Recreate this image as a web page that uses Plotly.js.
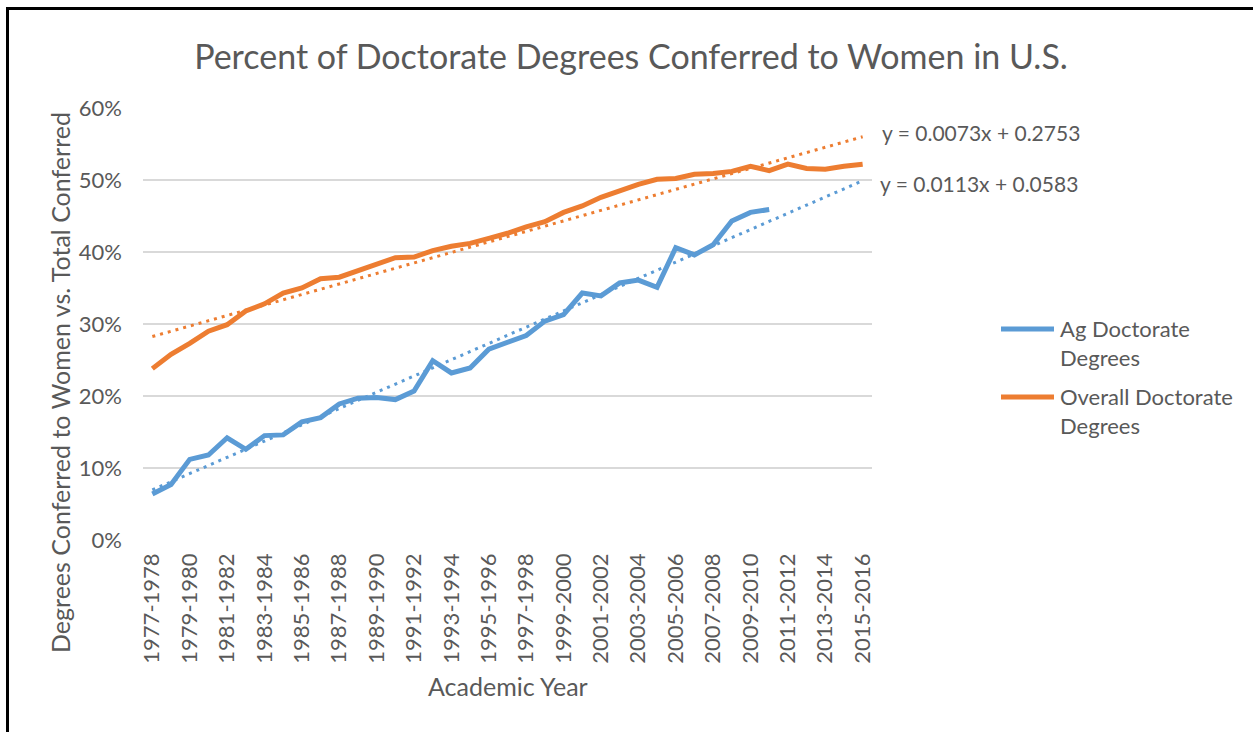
<!DOCTYPE html>
<html>
<head>
<meta charset="utf-8">
<script src="https://cdn.plot.ly/plotly-3.0.1.min.js"></script>
<style>
  html, body { margin: 0; padding: 0; background: #fff; }
  #wrap { position: relative; width: 1253px; height: 732px; overflow: hidden; }
  #chart { width: 1253px; height: 732px; }
  #frame { position: absolute; left: 6px; top: 7px; width: 1300px; height: 800px;
           border-left: 3px solid #000; border-top: 3px solid #000; pointer-events: none; }
</style>
</head>
<body>
<div id="wrap">
  <div id="chart"></div>
  <div id="frame"></div>
</div>
<script>
// Academic years (categories)
const years = [
  "1977-1978","1978-1979","1979-1980","1980-1981","1981-1982","1982-1983","1983-1984","1984-1985",
  "1985-1986","1986-1987","1987-1988","1988-1989","1989-1990","1990-1991","1991-1992","1992-1993",
  "1993-1994","1994-1995","1995-1996","1996-1997","1997-1998","1998-1999","1999-2000","2000-2001",
  "2001-2002","2002-2003","2003-2004","2004-2005","2005-2006","2006-2007","2007-2008","2008-2009",
  "2009-2010","2010-2011","2011-2012","2012-2013","2013-2014","2014-2015","2015-2016"
];
// Share of Ag doctorate degrees conferred to women (1977-78 .. 2010-11)
const agDoctorate = [
  0.064, 0.077, 0.112, 0.118, 0.142, 0.126, 0.145, 0.146, 0.164, 0.170,
  0.189, 0.197, 0.198, 0.195, 0.207, 0.249, 0.232, 0.239, 0.265, 0.274,
  0.284, 0.304, 0.313, 0.343, 0.339, 0.357, 0.361, 0.351, 0.406, 0.396,
  0.410, 0.443, 0.455, 0.459
];
// Share of overall doctorate degrees conferred to women (1977-78 .. 2015-16)
const overallDoctorate = [
  0.238, 0.258, 0.273, 0.290, 0.299, 0.318, 0.328, 0.343, 0.350, 0.363,
  0.365, 0.374, 0.383, 0.392, 0.393, 0.402, 0.408, 0.412, 0.419, 0.426,
  0.435, 0.442, 0.455, 0.464, 0.476, 0.485, 0.494, 0.501, 0.502, 0.508,
  0.509, 0.512, 0.519, 0.513, 0.522, 0.516, 0.515, 0.519, 0.522
];
// Linear trendline coefficients shown on the chart (x = 1-based category index)
const agTrend = { slope: 0.0113, intercept: 0.0583, label: "y = 0.0113x + 0.0583" };
const overallTrend = { slope: 0.0073, intercept: 0.2753, label: "y = 0.0073x + 0.2753" };
const seriesNames = ["Ag Doctorate<br>Degrees", "Overall Doctorate<br>Degrees"];
const yTickVals = [0, 0.1, 0.2, 0.3, 0.4, 0.5, 0.6];
const xTickLabels = years.filter((y, i) => i % 2 === 0);

const BLUE = "#5B9BD5", ORANGE = "#ED7D31", TXT = "#595959";
const FONT = "Lato, 'Open Sans', sans-serif";

const trendY = t => years.map((_, i) => t.slope * (i + 1) + t.intercept);

const traces = [
  { x: years, y: trendY(overallTrend), type: "scatter", mode: "lines", showlegend: false,
    line: { color: ORANGE, width: 3, dash: "3px,5px" }, hoverinfo: "skip" },
  { x: years, y: trendY(agTrend), type: "scatter", mode: "lines", showlegend: false,
    line: { color: BLUE, width: 3, dash: "3px,5px" }, hoverinfo: "skip" },
  { x: years.slice(0, agDoctorate.length), y: agDoctorate, type: "scatter", mode: "lines",
    name: seriesNames[0], showlegend: false, line: { color: BLUE, width: 5 } },
  { x: years, y: overallDoctorate, type: "scatter", mode: "lines",
    name: seriesNames[1], showlegend: false, line: { color: ORANGE, width: 5 } }
];

const L = 143, R = 872, T = 108, B = 540, W = 1253, H = 732;
const px = v => (v - L) / (R - L);
const py = v => (B - v) / (B - T);

const layout = {
  width: W, height: H,
  margin: { l: L, r: W - R, t: T, b: H - B, pad: 0 },
  paper_bgcolor: "#fff", plot_bgcolor: "#fff",
  font: { family: FONT, color: TXT, size: 22 },
  title: { text: "Percent of Doctorate Degrees Conferred to Women in U.S.",
           font: { family: FONT, size: 34, color: TXT },
           x: 631 / W, xanchor: "center", xref: "container",
           y: 1 - 57 / H, yanchor: "middle", yref: "container" },
  xaxis: { type: "category", range: [-0.5, years.length - 0.5],
           tickmode: "array", tickvals: xTickLabels, ticktext: xTickLabels,
           tickangle: -90, showgrid: false, zeroline: false, showline: false,
           ticks: "", ticklabelstandoff: 8,
           tickfont: { family: FONT, size: 22, color: TXT } },
  yaxis: { range: [0, 0.6], tickmode: "array", tickvals: yTickVals, tickformat: ".0%",
           showgrid: true, gridcolor: "#D9D9D9", gridwidth: 1.3, zeroline: false,
           showline: false, ticks: "", ticklabelstandoff: 20,
           tickfont: { family: FONT, size: 22, color: TXT } },
  showlegend: false,
  shapes: [
    { type: "line", xref: "paper", yref: "paper", x0: px(1001), x1: px(1054), y0: py(329), y1: py(329),
      line: { color: BLUE, width: 5 } },
    { type: "line", xref: "paper", yref: "paper", x0: px(1001), x1: px(1054), y0: py(397), y1: py(397),
      line: { color: ORANGE, width: 5 } }
  ],
  annotations: [
    { text: "Degrees Conferred to Women vs. Total Conferred", textangle: -90,
      xref: "paper", yref: "paper", x: px(60), y: py(383), xanchor: "center", yanchor: "middle",
      showarrow: false, font: { family: FONT, size: 25, color: TXT } },
    { text: "Academic Year", xref: "paper", yref: "paper", x: px(508), y: py(686),
      xanchor: "center", yanchor: "middle", showarrow: false,
      font: { family: FONT, size: 25, color: TXT } },
    { text: overallTrend.label, xref: "paper", yref: "paper", x: px(880), y: py(132),
      xanchor: "left", yanchor: "middle", showarrow: false,
      font: { family: FONT, size: 21, color: TXT } },
    { text: agTrend.label, xref: "paper", yref: "paper", x: px(878), y: py(183),
      xanchor: "left", yanchor: "middle", showarrow: false,
      font: { family: FONT, size: 21, color: TXT } },
    { text: seriesNames[0], xref: "paper", yref: "paper", x: px(1058), y: py(343),
      xanchor: "left", yanchor: "middle", align: "left", showarrow: false,
      font: { family: FONT, size: 22, color: TXT } },
    { text: seriesNames[1], xref: "paper", yref: "paper", x: px(1058), y: py(411),
      xanchor: "left", yanchor: "middle", align: "left", showarrow: false,
      font: { family: FONT, size: 22, color: TXT } }
  ]
};

Plotly.newPlot("chart", traces, layout, { displayModeBar: false, staticPlot: true });
</script>
</body>
</html>
